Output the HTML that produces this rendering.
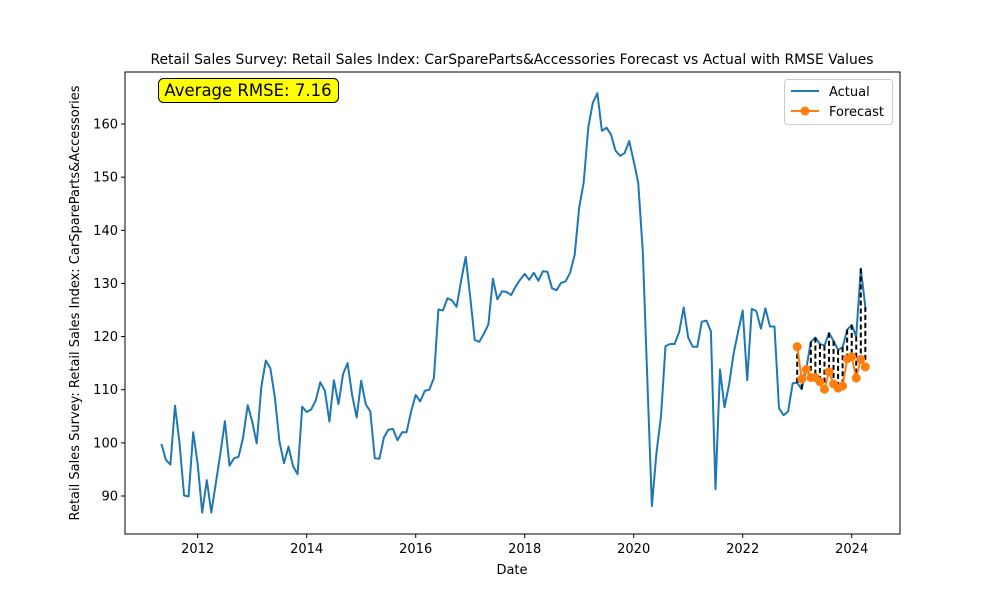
<!DOCTYPE html>
<html><head><meta charset="utf-8"><style>
body{margin:0;background:#fff;}
svg{display:block;font-family:"DejaVu Sans","Liberation Sans",sans-serif;}
</style></head><body>
<svg id="chart" width="1000" height="600" viewBox="0 0 1000 600">
<rect width="1000" height="600" fill="#fff"/>
<text x="512" y="64" font-size="13.9" text-anchor="middle">Retail Sales Survey: Retail Sales Index: CarSpareParts&amp;Accessories Forecast vs Actual with RMSE Values</text>
<g id="grid"></g>
<g id="plot"></g>
<rect x="125" y="72" width="775" height="462" fill="none" stroke="#000" stroke-width="1"/>
<text x="512" y="574" font-size="13" text-anchor="middle">Date</text>
<text transform="translate(79,303) rotate(-90)" font-size="13" text-anchor="middle">Retail Sales Survey: Retail Sales Index: CarSpareParts&amp;Accessories</text>
<g>
<rect x="158.5" y="78.5" width="180" height="24" rx="5" fill="#ffff00" stroke="#000"/>
<text x="248" y="96" font-size="16.5" text-anchor="middle">Average RMSE: 7.16</text>
</g>
<g>
<rect x="784.5" y="79.5" width="108" height="45" rx="3" fill="#fff" stroke="#ccc"/>
<g>
<line x1="791" y1="91" x2="819" y2="91" stroke="#1f77b4" stroke-width="2"/>
<text x="829" y="96" font-size="13">Actual</text></g>
<g>
<line x1="791" y1="111" x2="819" y2="111" stroke="#ff7f0e" stroke-width="2"/>
<circle cx="805" cy="111" r="4.5" fill="#ff7f0e"/>
<text x="829" y="116" font-size="13">Forecast</text></g>
</g>
</svg>
<script>
const startYear = 2011, startMonth = 5;
const actual = [99.8,96.8,95.9,107,100,90.1,89.9,102,
96,86.9,93,86.9,92.5,98,104.1,95.7,97.1,97.4,101,107.1,
104,99.9,110.5,115.5,114,108.5,100.3,96.2,99.3,95.6,94.1,106.8,
105.8,106.3,108,111.4,109.8,104,111.8,107.3,112.9,115,109,104.8,
111.7,107.3,105.9,97.1,97,101,102.5,102.6,100.5,102,102,106,
109,107.8,109.8,110,112.2,125.1,124.9,127.2,126.8,125.6,130.5,135,
127.5,119.4,119,120.5,122.3,130.9,127,128.5,128.4,127.8,129.4,130.7,
131.8,130.7,132,130.5,132.3,132.2,129.1,128.7,130.1,130.4,132,135.4,
144.3,149,159.4,164,165.8,158.7,159.3,158,155,154,154.5,156.8,
153,149,136,112,88.1,98,105,118.2,118.6,118.6,120.8,125.5,
119.8,118.1,118.1,122.8,123,121,91.3,113.8,106.7,111,116.8,121,
124.9,111.8,125.2,124.8,121.5,125.3,121.9,121.9,106.5,105.2,105.9,111.2,
111.3,110.1,114,119,119.8,118.6,118.3,120.7,119.2,117.5,118,121.3,
122.2,120,132.8,125.6];
const forecastStartIndex = 140;
const forecast = [118.1,112.0,113.8,112.3,112.3,111.5,110.1,113.4,111.1,110.3,110.7,115.8,116.2,112.2,115.7,114.3];
const yTicks = [90,100,110,120,130,140,150,160];
const xTicks = [2012,2014,2016,2018,2020,2022,2024];

const NS="http://www.w3.org/2000/svg";
function xs(t){return 197.7+(t-2012)*54.5;}
function ys(v){return 496-(v-90)*5.314;}
function tOf(i){return startYear+(startMonth-1+i)/12;}
function mk(tag,attrs,parent){const e=document.createElementNS(NS,tag);for(const k in attrs)e.setAttribute(k,attrs[k]);parent.appendChild(e);return e;}
const grid=document.getElementById('grid'), plot=document.getElementById('plot');
yTicks.forEach(v=>{
  const l=mk('line',{x1:121,x2:125,y1:ys(v),y2:ys(v),stroke:'#000'},grid);
  
  
  const t=mk('text',{x:118,y:ys(v)+4.5,'font-size':13,'text-anchor':'end'},grid);
  t.textContent=v;
  
  
});
xTicks.forEach(v=>{
  const l=mk('line',{x1:xs(v),x2:xs(v),y1:534,y2:538,stroke:'#000'},grid);
  
  
  const t=mk('text',{x:xs(v),y:553,'font-size':13,'text-anchor':'middle'},grid);
  t.textContent=v;
  
  
});
const ap=actual.map((v,i)=>xs(tOf(i)).toFixed(1)+','+ys(v).toFixed(1)).join(' ');
const al=mk('polyline',{points:ap,fill:'none',stroke:'#1f77b4','stroke-width':2,'stroke-linejoin':'round'},plot);


forecast.forEach((v,j)=>{
  const i=forecastStartIndex+j;
  const d=mk('line',{x1:xs(tOf(i)),x2:xs(tOf(i)),y1:ys(actual[i]),y2:ys(v),stroke:'#000','stroke-width':2,'stroke-dasharray':'5,3'},plot);
  
  
});
const fp=forecast.map((v,j)=>xs(tOf(forecastStartIndex+j)).toFixed(1)+','+ys(v).toFixed(1)).join(' ');
const fl=mk('polyline',{points:fp,fill:'none',stroke:'#ff7f0e','stroke-width':2},plot);


forecast.forEach((v,j)=>{
  const c=mk('circle',{cx:xs(tOf(forecastStartIndex+j)),cy:ys(v),r:4.5,fill:'#ff7f0e'},plot);
  
  
});
</script>
</body></html>
